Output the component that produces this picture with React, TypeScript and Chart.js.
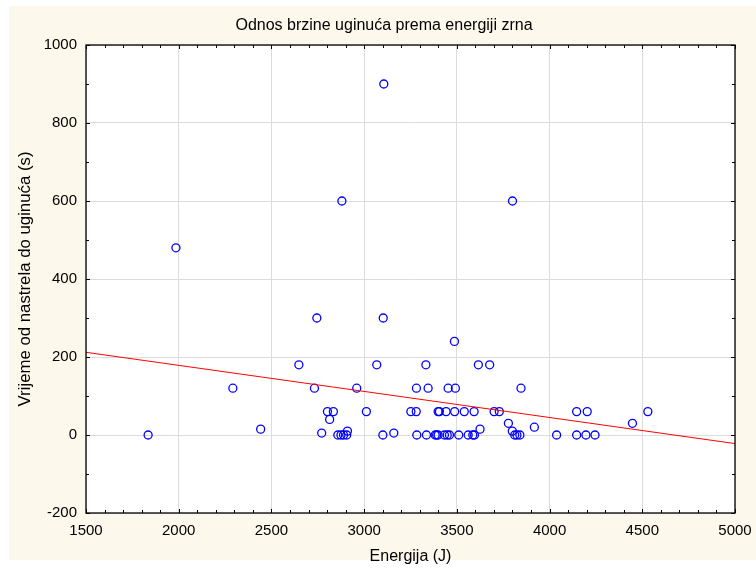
import React, { useEffect, useRef } from 'react';
import { Chart, registerables } from 'chart.js';

Chart.register(...registerables);

const chartTitle = 'Odnos brzine uginuća prema energiji zrna';
const xAxisTitle = 'Energija (J)';
const yAxisTitle = 'Vrijeme od nastrela do uginuća (s)';

const energy = [
  1835, 1985, 2292, 2442, 2648, 2745, 2732, 2771, 2802, 2834,
  2814, 2880, 2858, 2875, 2889, 2906, 2910, 2960, 3012, 3068,
  3106, 3103, 3101, 3160, 3282, 3333, 3345, 3252, 3281, 3284,
  3336, 3383, 3391, 3399, 3399, 3406, 3442, 3433, 3448, 3460,
  3453, 3487, 3492, 3488, 3510, 3540, 3561, 3586, 3595, 3593,
  3616, 3625, 3677, 3701, 3729, 3778, 3800, 3799, 3812, 3824,
  3840, 3846, 3918, 4038, 4146, 4203, 4146, 4196, 4245, 4447,
  4530,
];
const survival = [
  0, 480, 120, 15, 180, 300, 120, 5, 60, 60,
  40, 600, 0, 0, 0, 0, 10, 120, 60, 180,
  900, 300, 0, 5, 120, 180, 120, 60, 60, 0,
  0, 0, 0, 0, 60, 60, 60, 0, 0, 0,
  120, 240, 120, 60, 0, 60, 0, 0, 0, 60,
  180, 15, 180, 60, 60, 30, 600, 10, 0, 0,
  0, 120, 20, 0, 60, 60, 0, 0, 0, 30,
  60,
];

const fitX = [1500, 5000];
const fitY = [212, -22];

const xMin = 1500;
const xMax = 5000;
const xStep = 500;
const xMinorStep = 100;
const yMin = -200;
const yMax = 1000;
const yStep = 200;
const yMinorStep = 100;

const FONT = '"Liberation Sans", Arial, sans-serif';

const framePlugin = {
  id: 'statFrame',
  beforeDraw(chart: any) {
    const { ctx, chartArea } = chart;
    ctx.save();
    ctx.fillStyle = '#ffffff';
    ctx.fillRect(0, 0, chart.width, chart.height);
    ctx.fillStyle = '#fdf8ec';
    ctx.fillRect(9, 6, chart.width - 9, 554);
    ctx.fillStyle = '#ffffff';
    ctx.fillRect(chartArea.left, chartArea.top, chartArea.right - chartArea.left, chartArea.bottom - chartArea.top);
    ctx.restore();
  },
  afterDraw(chart: any) {
    const { ctx, chartArea } = chart;
    const { left, right, top, bottom } = chartArea;
    const xs = chart.scales.x;
    const ys = chart.scales.y;
    ctx.save();
    ctx.strokeStyle = '#000000';
    ctx.lineWidth = 1;
    ctx.beginPath();
    for (let v = xMin; v <= xMax; v += xMinorStep) {
      const len = (v - xMin) % xStep === 0 ? 4 : 3;
      const px = Math.round(xs.getPixelForValue(v)) + 0.5;
      ctx.moveTo(px, bottom);
      ctx.lineTo(px, bottom - len);
      ctx.moveTo(px, top);
      ctx.lineTo(px, top + len);
    }
    for (let v = yMin; v <= yMax; v += yMinorStep) {
      const len = (v - yMin) % yStep === 0 ? 4 : 3;
      const py = Math.round(ys.getPixelForValue(v)) + 0.5;
      ctx.moveTo(left, py);
      ctx.lineTo(left + len, py);
      ctx.moveTo(right, py);
      ctx.lineTo(right - len, py);
    }
    ctx.stroke();
    ctx.lineWidth = 1.3;
    ctx.strokeRect(left, top, right - left, bottom - top);
    ctx.fillStyle = '#000000';
    ctx.font = '16px ' + FONT;
    ctx.textAlign = 'center';
    ctx.textBaseline = 'middle';
    ctx.fillText(chartTitle, 384, 25.5);
    ctx.restore();
  },
};

export default function App() {
  const ref = useRef<HTMLCanvasElement | null>(null);
  useEffect(() => {
    if (!ref.current) return;
    const points = energy.map((e, i) => ({ x: e, y: survival[i] }));
    const fit = fitX.map((e, i) => ({ x: e, y: fitY[i] }));
    const chart = new Chart(ref.current, {
      type: 'scatter',
      data: {
        datasets: [
          {
            data: fit,
            showLine: true,
            borderColor: '#ff0000',
            borderWidth: 1,
            pointRadius: 0,
            fill: false,
          } as any,
          {
            data: points,
            pointStyle: 'circle',
            pointRadius: 4,
            pointBorderWidth: 1.3,
            borderColor: '#0000ff',
            backgroundColor: 'rgba(0,0,0,0)',
            pointBackgroundColor: 'rgba(0,0,0,0)',
            pointBorderColor: '#0000ff',
          } as any,
        ],
      },
      plugins: [framePlugin],
      options: {
        animation: false,
        responsive: false,
        devicePixelRatio: 1,
        layout: { padding: { top: 45, right: 21, left: 0, bottom: 0 } },
        plugins: {
          legend: { display: false },
          tooltip: { enabled: false },
          title: { display: false },
        },
        scales: {
          x: {
            type: 'linear',
            min: xMin,
            max: xMax,
            afterFit: (s: any) => { s.height = 57; s.paddingLeft = 0; s.paddingRight = 0; },
            ticks: {
              stepSize: xStep,
              color: '#000',
              padding: 9,
              font: { family: FONT, size: 15 },
              callback: (v: any) => String(v),
            },
            grid: { color: '#dcdcdc', drawTicks: false, lineWidth: 1 },
            border: { display: false },
            title: { display: true, text: xAxisTitle, color: '#000', font: { family: FONT, size: 16 }, padding: { top: 0, bottom: 3.4 } },
          },
          y: {
            type: 'linear',
            min: yMin,
            max: yMax,
            afterFit: (s: any) => { s.width = 86; s.paddingTop = 0; s.paddingBottom = 0; },
            ticks: {
              stepSize: yStep,
              color: '#000',
              padding: 9,
              font: { family: FONT, size: 15 },
              callback: (v: any) => String(v),
            },
            grid: { color: '#dcdcdc', drawTicks: false, lineWidth: 1 },
            border: { display: false },
            title: { display: true, text: yAxisTitle, color: '#000', font: { family: FONT, size: 16.8 }, padding: { top: 14.9, bottom: 0 } },
          },
        },
      } as any,
    });
    return () => chart.destroy();
  }, []);
  return (
    <div style={{ position: 'fixed', left: 0, top: 0, width: 756, height: 570 }}>
      <canvas ref={ref} width={756} height={570} style={{ display: 'block', width: 756, height: 570 }} />
    </div>
  );
}
